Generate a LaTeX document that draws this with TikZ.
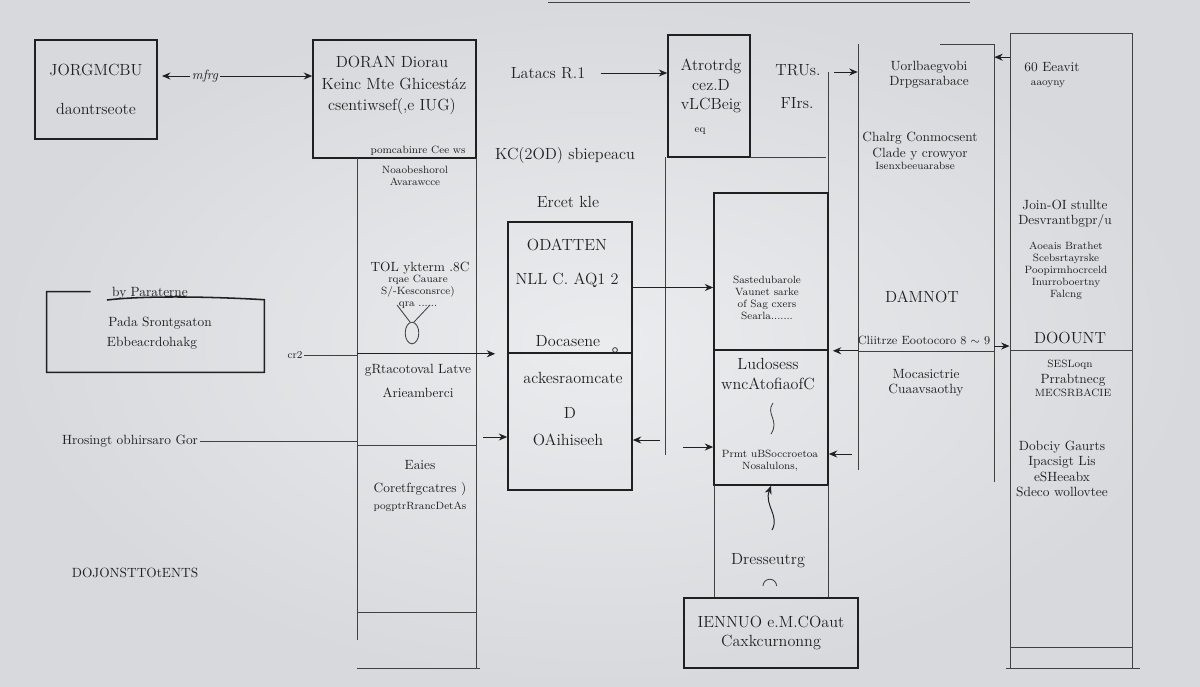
\documentclass[tikz,border=0pt]{standalone}
\usetikzlibrary{arrows.meta}
\definecolor{ink}{RGB}{32,32,32}
\definecolor{paperin}{RGB}{235,236,238}
\definecolor{paperout}{RGB}{216,217,220}
\tikzset{
  sketchbox/.style={draw=ink,line width=1.1pt,inner sep=0pt},
  lane/.style={draw=ink!85,line width=0.6pt},
  txt/.style={text=ink,font=\fontsize{11.5}{14}\selectfont,align=center,inner sep=1pt},
  mid/.style={text=ink,font=\fontsize{9.5}{11}\selectfont,align=center,inner sep=1pt},
  small/.style={text=ink,font=\fontsize{7.5}{8.5}\selectfont,align=center,inner sep=1pt},
  link/.style={draw=ink,line width=0.7pt,-{Stealth[length=6pt,width=5pt]}},
}

\begin{document}
\begin{tikzpicture}[x=0.025cm,y=-0.025cm]
  \shade[inner color=paperin,outer color=paperout] (0,0) rectangle (1200,686);
  \useasboundingbox (0,0) rectangle (1200,686);

  \draw[lane] (548,2) -- (970,2);

  % left side
  \node[sketchbox,txt,minimum width=3.05cm,minimum height=2.475cm] (jorg) at (96,89.5) {JORGMCBU\\[14pt]daontrseote};
  \node[mid,font=\itshape\fontsize{9.5}{11}\selectfont] (mfrg) at (205,76) {mfrg};
  \node[minimum width=5.425cm,minimum height=2cm,inner sep=0pt] (pada) at (155.5,332) {};
  \draw[sketchbox] ([xshift=1.1cm]pada.north west) -- (pada.north west) -- (pada.south west) -- (pada.south east) -- ([yshift=-0.2cm]pada.north east)
    .. controls (200,296) and (140,296) .. (107,300);
  \node[mid] (byp) at (150,293) {by Paraterne};
  \node[mid] (pada1) at (160,323) {Pada Srontgsaton};
  \node[mid] (pada2) at (152,343) {Ebbeacrdohakg};
  \node[small] (cr) at (295,355) {cr2};
  \node[mid] (hros) at (130,441) {Hrosingt obhirsaro Gor};
  \node[mid] (dojo) at (135,573) {DOJONSTTOtENTS};

  % doran column
  \node[sketchbox,minimum width=4.075cm,minimum height=2.95cm] (doran) at (394.5,99) {};
  \node[txt] (doran1) at (392,62) {DORAN Diorau};
  \node[txt] (doran2) at (394,84) {Keinc Mte Ghicestáz};
  \node[txt] (doran3) at (392,106) {csentiwsef(,e IUG)};
  \node[small] (doran4) at (418,151) {pomcabinre Cee ws};
  \node[minimum width=2.975cm,minimum height=12.75cm,inner sep=0pt] (colB) at (416.5,413) {};
  \draw[lane] (357,158) -- (357,640);
  \draw[lane] (476,158) -- (476,668);
  \draw[lane] (357,445) -- (476,445);
  \draw[lane] (357,612) -- (476,612);
  \draw[lane] (357,668) -- (480,668);
  \node[small] (noao) at (415,176) {Noaobeshorol\\Avarawcce};
  \node[mid] (tol) at (420,268) {TOL ykterm .8C};
  \node[small] (tol2) at (418,292) {rqae Cauare\\S/-Kesconsrce)\\qra ......};
  \draw[lane] (397,305) -- (410,322) (430,305) -- (414,322);
  \draw[lane] (412,333) ellipse [x radius=0.17cm,y radius=0.27cm];
  \node[mid] (grta) at (418,370) {gRtacotoval Latve};
  \node[mid] (arie) at (418,393) {Arieamberci};
  \node[mid] (eaie) at (420,465) {Eaies};
  \node[mid] (core) at (420,489) {Coretfrgcatres )};
  \node[small] (pogp) at (420,507) {pogptrRrancDetAs};

  % middle
  \node[txt] (latacs) at (548,73) {Latacs R.1};
  \node[txt] (kc) at (565,155) {KC(2OD) sbiepeacu};
  \node[txt] (ercet) at (568,202) {Ercet kle};
  \node[sketchbox,minimum width=3.1cm,minimum height=3.275cm] (odat) at (570,287.5) {};
  \node[txt] (odat1) at (567,245) {ODATTEN};
  \node[txt] (odat2) at (567,280) {NLL C. AQ1 2};
  \node[txt] (odat3) at (568,341) {Docasene};
  \draw[lane] (615,350) circle [radius=0.06cm];
  \node[sketchbox,minimum width=3.1cm,minimum height=3.425cm] (acke) at (570,421.5) {};
  \node[txt] (acke1) at (573,378) {ackesraomcate};
  \node[txt] (acke2) at (570,413) {D};
  \node[txt] (acke3) at (568,440) {OAihiseeh};

  % right middle
  \node[sketchbox,minimum width=2.05cm,minimum height=3.05cm] (atro) at (709,96) {};
  \node[txt] (atro1) at (711,86) {Atrotrdg\\cez.D\\vLCBeig};
  \node[small] (atro2) at (700,131) {eq};
  \node[txt] (trus) at (798,70) {TRUs.};
  \node[txt] (firs) at (797,103) {FIrs.};
  \draw[lane] (750,157) -- (826,157);
  \draw[lane] (828,72) -- (828,193);
  \draw[lane] (665,157) -- (665,455);
  \node[sketchbox,minimum width=2.85cm,minimum height=3.925cm] (sast) at (771,271.5) {};
  \node[small] (sast1) at (767,298) {Sastedubarole\\Vaunet sarke\\of Sag cxers\\Searla.......};
  \node[sketchbox,minimum width=2.85cm,minimum height=3.375cm] (ludo) at (771,417.5) {};
  \node[txt] (ludo1) at (768,374) {Ludosess\\wncAtofiaofC};
  \draw[lane] (773,403) .. controls (765,414) and (780,420) .. (771,434);
  \node[small] (ludo2) at (770,461) {Prmt uBSoccroetoa\\Nosalulons,};
  \draw[lane] (714,485) -- (714,598);
  \draw[lane] (828,485) -- (828,598);
  \node[txt] (dres) at (768,561) {Dresseutrg};
  \draw[lane] (763,586) arc (180:0:0.17cm);
  \node[sketchbox,txt,minimum width=4.35cm,minimum height=1.75cm] (ienn) at (771,633) {IENNUO e.M.COaut\\Caxkcurnonng};

  % damnot column
  \node[minimum width=3.4cm,minimum height=10.65cm,inner sep=0pt] (damn) at (926,257) {};
  \draw[lane] (858,44) -- (858,470);
  \draw[lane] (940,44) -- (994,44) -- (994,482);
  \node[mid] (uorl) at (929,75) {Uorlbaegvobi\\Drpgsarabace};
  \node[mid] (chal) at (920,146) {Chalrg Conmocsent\\Clade y crowyor};
  \node[small] (isen) at (915,166) {Isenxbeeuarabse};
  \node[txt] (damn1) at (922,297) {DAMNOT};
  \node[mid,font=\fontsize{8.5}{10}\selectfont] (clii) at (924,340) {Cliitrze Eootocoro 8 $\sim$ 9};
  \draw[lane] (858,351) -- (994,351);
  \node[mid] (moca) at (926,383) {Mocasictrie\\Cuaavsaothy};

  % eeavit column
  \node[lane,minimum width=3.05cm,minimum height=15.875cm,inner sep=0pt] (eeav) at (1071,350.5) {};
  \draw[lane] (1010,350) -- (1132,350);
  \draw[lane] (1010,647) -- (1132,647);
  \draw[lane] (1006,668) -- (1140,668);
  \node[mid] (eeav1) at (1052,67) {60 Eeavit};
  \node[small] (eeav2) at (1048,84) {aaoyny};
  \node[mid] (join) at (1065,214) {Join-OI stullte\\Desvrantbgpr/u};
  \node[small] (aoea) at (1066,271) {Aoeais Brathet\\Scebsrtayrske\\Poopirmhocrceld\\Inurroboertny\\Falcng};
  \node[txt] (doou) at (1070,338) {DOOUNT};
  \node[small] (sesl) at (1070,365) {SESLoqn};
  \node[mid] (prra) at (1073,380) {Prrabtnecg};
  \node[small] (mecs) at (1073,393) {MECSRBACIE};
  \node[mid] (dobc) at (1062,469) {Dobciy Gaurts\\Ipacsigt Lis\\eSHeeabx\\Sdeco wollovtee};

  % connectors
  \draw[link,shorten >=3pt] (mfrg.west) -- (jorg.east |- mfrg);
  \draw[link] (mfrg.east) -- (doran.west |- mfrg);
  \draw[lane] (cr.east) -- (colB.west |- cr);
  \draw[lane] (hros.east) -- (colB.west |- hros);
  \draw[link] (colB.west |- odat.south) -- ([xshift=-0.3cm]odat.south west);
  \draw[link] ([xshift=0.35cm]latacs.east) -- (atro.west |- latacs);
  \coordinate (fin) at (483,437);
  \draw[link] (fin) -- (acke.west |- fin);
  \coordinate (fout) at (660,440);
  \draw[link] (fout) -- (acke.east |- fout);
  \draw[link] (odat.east) -- (sast.west |- odat.east);
  \coordinate (jin) at (683,447);
  \draw[link] (jin) -- (ludo.west |- jin);
  \coordinate (jout) at (852,454);
  \draw[link] (jout) -- (ludo.east |- jout);
  \coordinate (ksq) at (772,530);
  \draw[link] (ksq) .. controls (780,516) and (764,505) .. (ludo.south);
  \coordinate (hin) at (834,72);
  \draw[link] (hin) -- (damn.west |- hin);
  \draw[link] (damn.west |- sast.south) -- ([xshift=0.1cm]sast.south east);
  \draw[link] (damn.east |- clii.south) -- (eeav.west |- clii.south);
  \draw[link] (eeav.west |- atro1.north) -- (damn.east |- atro1.north);
\end{tikzpicture}
\end{document}
